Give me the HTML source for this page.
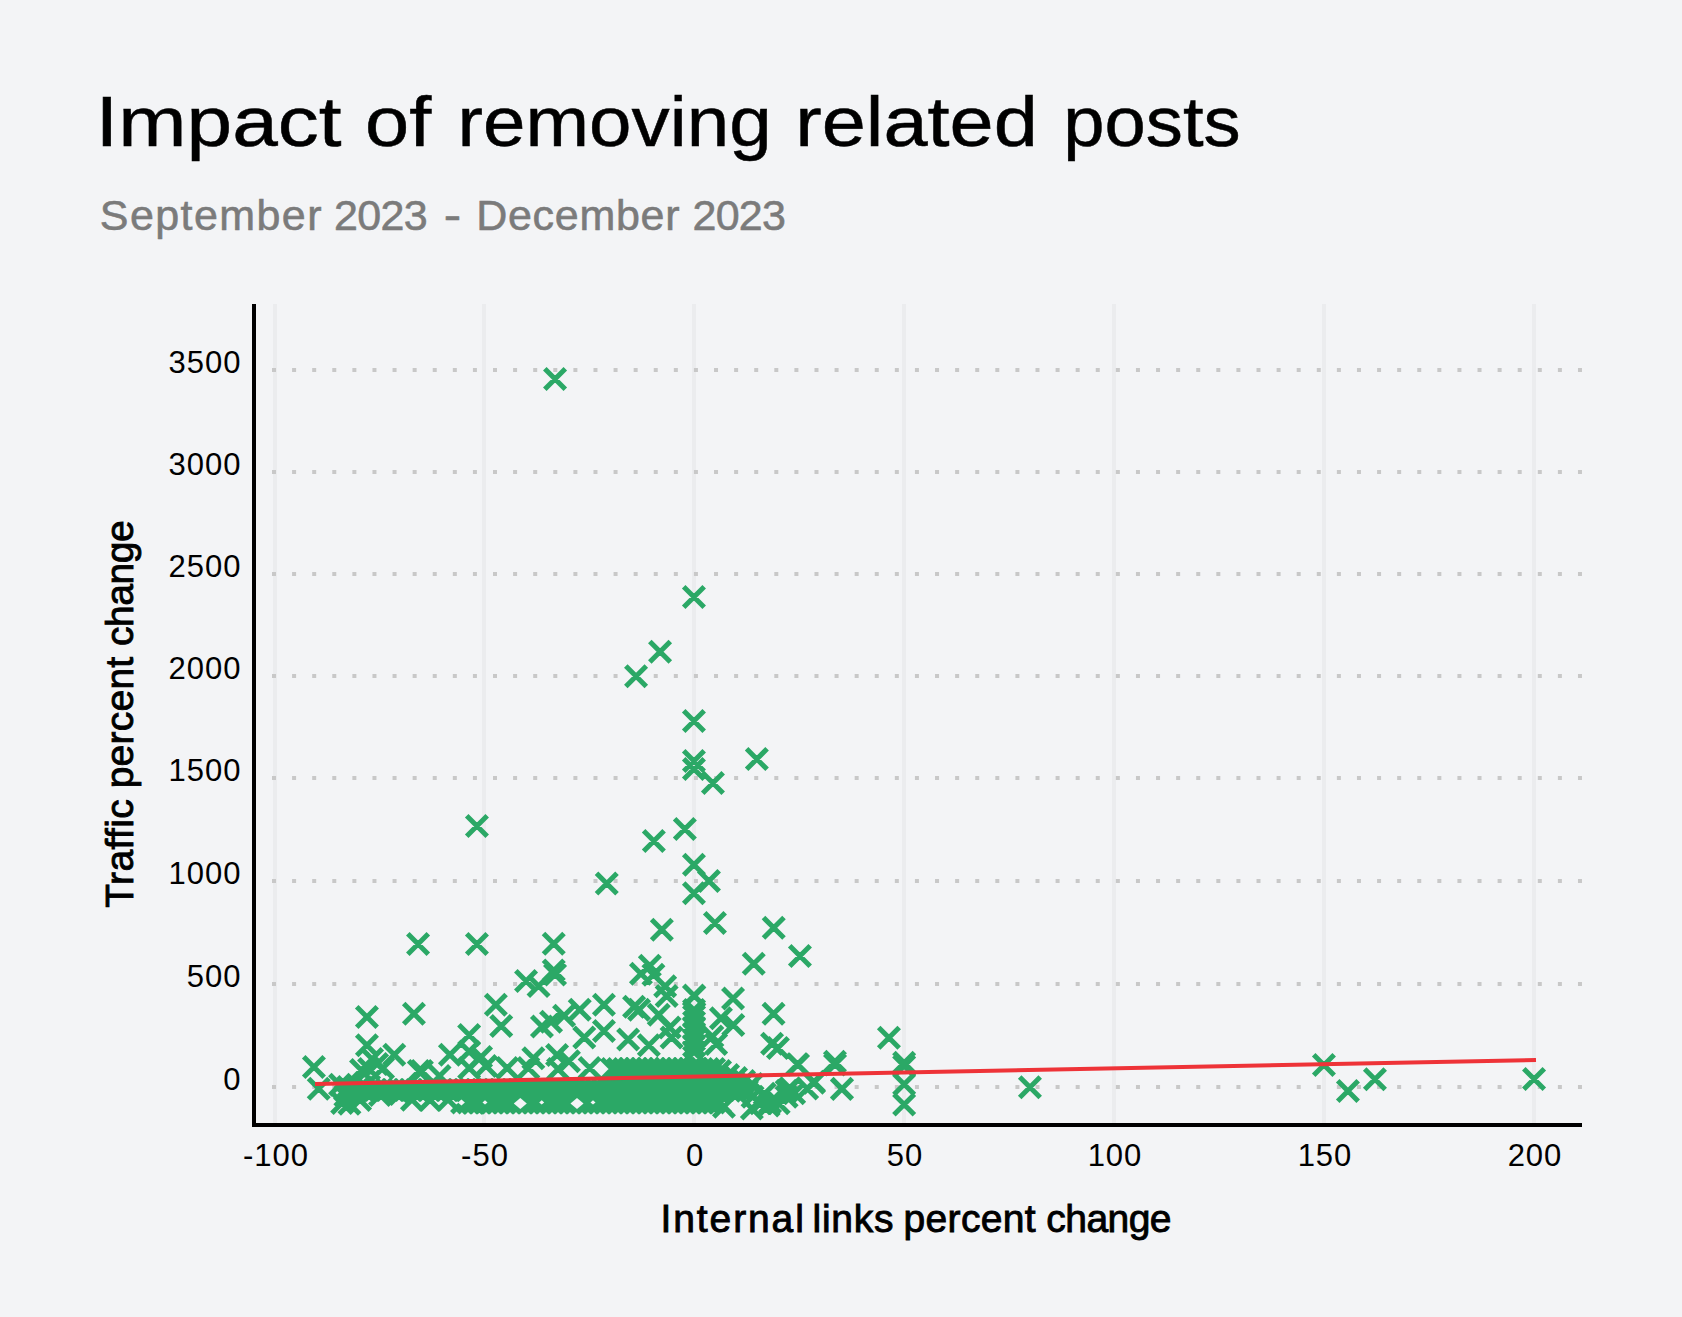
<!DOCTYPE html><html><head><meta charset="utf-8"><style>
html,body{margin:0;padding:0;background:#f3f4f6;}
svg{display:block}
text{font-family:"Liberation Sans",sans-serif}
.tk{font-size:31px;fill:#000;letter-spacing:1px}
.ti{fill:#000;stroke:#000;stroke-width:0.5px}
.st{fill:#7b7b7b;stroke:#7b7b7b;stroke-width:0.6px}
.lb{fill:#000;stroke:#000;stroke-width:0.9px}
</style></head><body>
<svg width="1682" height="1317" viewBox="0 0 1682 1317">
<rect width="1682" height="1317" fill="#f3f4f6"/>
<text x="95.6" y="146.3" font-size="71" textLength="245.9" lengthAdjust="spacingAndGlyphs" class="ti">Impact</text>
<text x="365.1" y="146.3" font-size="71" textLength="66.2" lengthAdjust="spacingAndGlyphs" class="ti">of</text>
<text x="457.6" y="146.3" font-size="71" textLength="314.1" lengthAdjust="spacingAndGlyphs" class="ti">removing</text>
<text x="795.3" y="146.3" font-size="71" textLength="242.5" lengthAdjust="spacingAndGlyphs" class="ti">related</text>
<text x="1063.3" y="146.3" font-size="71" textLength="177.3" lengthAdjust="spacingAndGlyphs" class="ti">posts</text>
<text x="99.8" y="230.3" font-size="43" textLength="221.7" lengthAdjust="spacing" class="st">September</text>
<text x="334.1" y="230.3" font-size="43" textLength="93.6" lengthAdjust="spacing" class="st">2023</text>
<text x="443.7" y="230.3" font-size="43" textLength="17.4" lengthAdjust="spacingAndGlyphs" class="st">-</text>
<text x="476.2" y="230.3" font-size="43" textLength="203.3" lengthAdjust="spacing" class="st">December</text>
<text x="692.5" y="230.3" font-size="43" textLength="93.4" lengthAdjust="spacing" class="st">2023</text>
<rect x="273" y="304" width="4" height="819" fill="#ebecee"/>
<rect x="482" y="304" width="4" height="819" fill="#ebecee"/>
<rect x="692" y="304" width="4" height="819" fill="#ebecee"/>
<rect x="902" y="304" width="4" height="819" fill="#ebecee"/>
<rect x="1112" y="304" width="4" height="819" fill="#ebecee"/>
<rect x="1322" y="304" width="4" height="819" fill="#ebecee"/>
<rect x="1532" y="304" width="4" height="819" fill="#ebecee"/>
<path d="M272 370.0H1582 M272 472.0H1582 M272 574.0H1582 M272 676.0H1582 M272 778.0H1582 M272 881.0H1582 M272 984.0H1582 M272 1087.0H1582" stroke="#c8c8c8" stroke-width="4" stroke-dasharray="4 16.092" fill="none"/>
<rect x="252" y="304" width="4" height="823" fill="#000"/>
<rect x="252" y="1123" width="1330" height="4" fill="#000"/>

<path d="M544.8 368.8l20.5 20.5m0 -20.5l-20.5 20.5M683.7 586.8l20.5 20.5m0 -20.5l-20.5 20.5M649.8 641.6l20.5 20.5m0 -20.5l-20.5 20.5M625.8 665.9l20.5 20.5m0 -20.5l-20.5 20.5M683.7 710.7l20.5 20.5m0 -20.5l-20.5 20.5M683.7 750.8l20.5 20.5m0 -20.5l-20.5 20.5M683.7 758.8l20.5 20.5m0 -20.5l-20.5 20.5M702.7 772.8l20.5 20.5m0 -20.5l-20.5 20.5M746.6 748.8l20.5 20.5m0 -20.5l-20.5 20.5M674.6 818.7l20.5 20.5m0 -20.5l-20.5 20.5M643.6 830.8l20.5 20.5m0 -20.5l-20.5 20.5M683.7 854.5l20.5 20.5m0 -20.5l-20.5 20.5M698.7 870.8l20.5 20.5m0 -20.5l-20.5 20.5M683.7 882.9l20.5 20.5m0 -20.5l-20.5 20.5M596.5 873.3l20.5 20.5m0 -20.5l-20.5 20.5M651.6 919.6l20.5 20.5m0 -20.5l-20.5 20.5M704.7 912.8l20.5 20.5m0 -20.5l-20.5 20.5M763.5 917.6l20.5 20.5m0 -20.5l-20.5 20.5M789.7 945.7l20.5 20.5m0 -20.5l-20.5 20.5M743.5 953.5l20.5 20.5m0 -20.5l-20.5 20.5M639.6 955.5l20.5 20.5m0 -20.5l-20.5 20.5M630.7 963.5l20.5 20.5m0 -20.5l-20.5 20.5M643.2 964.4l20.5 20.5m0 -20.5l-20.5 20.5M654.9 976.1l20.5 20.5m0 -20.5l-20.5 20.5M683.7 985.2l20.5 20.5m0 -20.5l-20.5 20.5M466.7 815.7l20.5 20.5m0 -20.5l-20.5 20.5M407.8 933.8l20.5 20.5m0 -20.5l-20.5 20.5M466.7 933.8l20.5 20.5m0 -20.5l-20.5 20.5M543.5 933.5l20.5 20.5m0 -20.5l-20.5 20.5M543.5 960.3l20.5 20.5m0 -20.5l-20.5 20.5M544.8 964.3l20.5 20.5m0 -20.5l-20.5 20.5M515.8 970.8l20.5 20.5m0 -20.5l-20.5 20.5M528.3 975.8l20.5 20.5m0 -20.5l-20.5 20.5M878.7 1027.6l20.5 20.5m0 -20.5l-20.5 20.5M893.9 1052.4l20.5 20.5m0 -20.5l-20.5 20.5M893.9 1055.8l20.5 20.5m0 -20.5l-20.5 20.5M893.9 1074.1l20.5 20.5m0 -20.5l-20.5 20.5M893.9 1094.3l20.5 20.5m0 -20.5l-20.5 20.5M1019.7 1076.9l20.5 20.5m0 -20.5l-20.5 20.5M1313.7 1054.8l20.5 20.5m0 -20.5l-20.5 20.5M1337.7 1080.8l20.5 20.5m0 -20.5l-20.5 20.5M1364.7 1068.9l20.5 20.5m0 -20.5l-20.5 20.5M1523.8 1068.8l20.5 20.5m0 -20.5l-20.5 20.5M356.7 1006.7l20.5 20.5m0 -20.5l-20.5 20.5M403.7 1003.5l20.5 20.5m0 -20.5l-20.5 20.5M356.7 1034.9l20.5 20.5m0 -20.5l-20.5 20.5M303.7 1056.7l20.5 20.5m0 -20.5l-20.5 20.5M308.5 1078.5l20.5 20.5m0 -20.5l-20.5 20.5M384.0 1044.4l20.5 20.5m0 -20.5l-20.5 20.5M350.8 1059.8l20.5 20.5m0 -20.5l-20.5 20.5M372.8 1057.8l20.5 20.5m0 -20.5l-20.5 20.5M337.7 1076.8l20.5 20.5m0 -20.5l-20.5 20.5M411.6 1060.9l20.5 20.5m0 -20.5l-20.5 20.5M331.9 1092.8l20.5 20.5m0 -20.5l-20.5 20.5M485.6 994.6l20.5 20.5m0 -20.5l-20.5 20.5M491.0 1015.8l20.5 20.5m0 -20.5l-20.5 20.5M458.9 1024.7l20.5 20.5m0 -20.5l-20.5 20.5M439.7 1044.5l20.5 20.5m0 -20.5l-20.5 20.5M470.8 1046.8l20.5 20.5m0 -20.5l-20.5 20.5M531.7 1016.3l20.5 20.5m0 -20.5l-20.5 20.5M540.8 1011.4l20.5 20.5m0 -20.5l-20.5 20.5M523.1 1047.9l20.5 20.5m0 -20.5l-20.5 20.5M496.9 1057.8l20.5 20.5m0 -20.5l-20.5 20.5M518.1 1057.8l20.5 20.5m0 -20.5l-20.5 20.5M458.9 1057.8l20.5 20.5m0 -20.5l-20.5 20.5M475.7 1055.8l20.5 20.5m0 -20.5l-20.5 20.5M408.6 1060.8l20.5 20.5m0 -20.5l-20.5 20.5M429.3 1065.7l20.5 20.5m0 -20.5l-20.5 20.5M546.8 1044.8l20.5 20.5m0 -20.5l-20.5 20.5M547.8 1058.8l20.5 20.5m0 -20.5l-20.5 20.5M569.5 999.5l20.5 20.5m0 -20.5l-20.5 20.5M593.7 994.6l20.5 20.5m0 -20.5l-20.5 20.5M574.0 1027.2l20.5 20.5m0 -20.5l-20.5 20.5M593.7 1020.8l20.5 20.5m0 -20.5l-20.5 20.5M558.7 1050.9l20.5 20.5m0 -20.5l-20.5 20.5M579.4 1057.8l20.5 20.5m0 -20.5l-20.5 20.5M617.9 1029.2l20.5 20.5m0 -20.5l-20.5 20.5M638.6 1035.1l20.5 20.5m0 -20.5l-20.5 20.5M623.8 996.6l20.5 20.5m0 -20.5l-20.5 20.5M628.8 999.5l20.5 20.5m0 -20.5l-20.5 20.5M656.4 985.7l20.5 20.5m0 -20.5l-20.5 20.5M659.4 1017.3l20.5 20.5m0 -20.5l-20.5 20.5M648.5 1004.5l20.5 20.5m0 -20.5l-20.5 20.5M661.3 1027.2l20.5 20.5m0 -20.5l-20.5 20.5M684.1 985.7l20.5 20.5m0 -20.5l-20.5 20.5M702.1 1026.2l20.5 20.5m0 -20.5l-20.5 20.5M553.8 1005.5l20.5 20.5m0 -20.5l-20.5 20.5M722.8 988.2l20.5 20.5m0 -20.5l-20.5 20.5M763.3 1003.5l20.5 20.5m0 -20.5l-20.5 20.5M723.0 1014.8l20.5 20.5m0 -20.5l-20.5 20.5M705.9 1033.8l20.5 20.5m0 -20.5l-20.5 20.5M741.6 1098.3l20.5 20.5m0 -20.5l-20.5 20.5M754.4 1083.5l20.5 20.5m0 -20.5l-20.5 20.5M758.4 1095.3l20.5 20.5m0 -20.5l-20.5 20.5M710.7 1008.1l20.5 20.5m0 -20.5l-20.5 20.5M787.8 1054.3l20.5 20.5m0 -20.5l-20.5 20.5M824.8 1054.3l20.5 20.5m0 -20.5l-20.5 20.5M824.7 1051.4l20.5 20.5m0 -20.5l-20.5 20.5M831.6 1078.8l20.5 20.5m0 -20.5l-20.5 20.5M803.7 1071.4l20.5 20.5m0 -20.5l-20.5 20.5M796.9 1078.3l20.5 20.5m0 -20.5l-20.5 20.5M750.2 1093.1l20.5 20.5m0 -20.5l-20.5 20.5M768.4 1093.1l20.5 20.5m0 -20.5l-20.5 20.5M776.4 1080.5l20.5 20.5m0 -20.5l-20.5 20.5M713.7 1096.5l20.5 20.5m0 -20.5l-20.5 20.5M761.8 1033.5l20.5 20.5m0 -20.5l-20.5 20.5M767.7 1037.7l20.5 20.5m0 -20.5l-20.5 20.5M779.8 1078.1l20.5 20.5m0 -20.5l-20.5 20.5M776.4 1086.4l20.5 20.5m0 -20.5l-20.5 20.5M783.9 1083.1l20.5 20.5m0 -20.5l-20.5 20.5M759.8 1092.2l20.5 20.5m0 -20.5l-20.5 20.5M742.3 1086.4l20.5 20.5m0 -20.5l-20.5 20.5M736.5 1080.6l20.5 20.5m0 -20.5l-20.5 20.5M787.1 1053.9l20.5 20.5m0 -20.5l-20.5 20.5M803.7 1072.6l20.5 20.5m0 -20.5l-20.5 20.5M831.8 1078.4l20.5 20.5m0 -20.5l-20.5 20.5M451.8 1092.3l20.5 20.5m0 -20.5l-20.5 20.5M457.8 1092.3l20.5 20.5m0 -20.5l-20.5 20.5M463.8 1092.3l20.5 20.5m0 -20.5l-20.5 20.5M469.8 1092.3l20.5 20.5m0 -20.5l-20.5 20.5M475.8 1092.3l20.5 20.5m0 -20.5l-20.5 20.5M481.8 1092.3l20.5 20.5m0 -20.5l-20.5 20.5M487.8 1092.3l20.5 20.5m0 -20.5l-20.5 20.5M493.8 1092.3l20.5 20.5m0 -20.5l-20.5 20.5M499.8 1092.3l20.5 20.5m0 -20.5l-20.5 20.5M505.8 1092.3l20.5 20.5m0 -20.5l-20.5 20.5M511.8 1092.3l20.5 20.5m0 -20.5l-20.5 20.5M517.8 1092.3l20.5 20.5m0 -20.5l-20.5 20.5M523.8 1092.3l20.5 20.5m0 -20.5l-20.5 20.5M529.8 1092.3l20.5 20.5m0 -20.5l-20.5 20.5M535.8 1092.3l20.5 20.5m0 -20.5l-20.5 20.5M541.8 1092.3l20.5 20.5m0 -20.5l-20.5 20.5M547.8 1092.3l20.5 20.5m0 -20.5l-20.5 20.5M553.8 1092.3l20.5 20.5m0 -20.5l-20.5 20.5M559.8 1092.3l20.5 20.5m0 -20.5l-20.5 20.5M565.8 1092.3l20.5 20.5m0 -20.5l-20.5 20.5M571.8 1092.3l20.5 20.5m0 -20.5l-20.5 20.5M577.8 1092.3l20.5 20.5m0 -20.5l-20.5 20.5M583.8 1092.3l20.5 20.5m0 -20.5l-20.5 20.5M589.8 1092.3l20.5 20.5m0 -20.5l-20.5 20.5M595.8 1092.3l20.5 20.5m0 -20.5l-20.5 20.5M601.8 1092.3l20.5 20.5m0 -20.5l-20.5 20.5M607.8 1092.3l20.5 20.5m0 -20.5l-20.5 20.5M613.8 1092.3l20.5 20.5m0 -20.5l-20.5 20.5M619.8 1092.3l20.5 20.5m0 -20.5l-20.5 20.5M625.8 1092.3l20.5 20.5m0 -20.5l-20.5 20.5M631.8 1092.3l20.5 20.5m0 -20.5l-20.5 20.5M637.8 1092.3l20.5 20.5m0 -20.5l-20.5 20.5M643.8 1092.3l20.5 20.5m0 -20.5l-20.5 20.5M649.8 1092.3l20.5 20.5m0 -20.5l-20.5 20.5M655.8 1092.3l20.5 20.5m0 -20.5l-20.5 20.5M661.8 1092.3l20.5 20.5m0 -20.5l-20.5 20.5M667.8 1092.3l20.5 20.5m0 -20.5l-20.5 20.5M673.8 1092.3l20.5 20.5m0 -20.5l-20.5 20.5M679.8 1092.3l20.5 20.5m0 -20.5l-20.5 20.5M685.8 1092.3l20.5 20.5m0 -20.5l-20.5 20.5M691.8 1092.3l20.5 20.5m0 -20.5l-20.5 20.5M697.8 1092.3l20.5 20.5m0 -20.5l-20.5 20.5M703.8 1092.3l20.5 20.5m0 -20.5l-20.5 20.5M709.8 1092.3l20.5 20.5m0 -20.5l-20.5 20.5M339.2 1093.6l20.5 20.5m0 -20.5l-20.5 20.5M369.8 1084.8l20.5 20.5m0 -20.5l-20.5 20.5M401.7 1089.5l20.5 20.5m0 -20.5l-20.5 20.5M437.8 1089.5l20.5 20.5m0 -20.5l-20.5 20.5M335.1 1085.5l20.5 20.5m0 -20.5l-20.5 20.5M462.7 1092.5l20.5 20.5m0 -20.5l-20.5 20.5M349.8 1089.8l20.5 20.5m0 -20.5l-20.5 20.5M389.8 1083.8l20.5 20.5m0 -20.5l-20.5 20.5M419.8 1089.8l20.5 20.5m0 -20.5l-20.5 20.5M329.8 1074.6l20.5 20.5m0 -20.5l-20.5 20.5M361.8 1048.8l20.5 20.5m0 -20.5l-20.5 20.5M358.8 1058.8l20.5 20.5m0 -20.5l-20.5 20.5M366.8 1053.8l20.5 20.5m0 -20.5l-20.5 20.5M411.5 1060.8l20.5 20.5m0 -20.5l-20.5 20.5M458.9 1041.3l20.5 20.5m0 -20.5l-20.5 20.5M334.8 1079.8l20.5 20.5m0 -20.5l-20.5 20.5M340.8 1079.8l20.5 20.5m0 -20.5l-20.5 20.5M346.8 1079.8l20.5 20.5m0 -20.5l-20.5 20.5M352.8 1079.8l20.5 20.5m0 -20.5l-20.5 20.5M358.8 1079.8l20.5 20.5m0 -20.5l-20.5 20.5M364.8 1079.8l20.5 20.5m0 -20.5l-20.5 20.5M370.8 1079.8l20.5 20.5m0 -20.5l-20.5 20.5M376.8 1079.8l20.5 20.5m0 -20.5l-20.5 20.5M382.8 1079.8l20.5 20.5m0 -20.5l-20.5 20.5M388.8 1079.8l20.5 20.5m0 -20.5l-20.5 20.5M394.8 1079.8l20.5 20.5m0 -20.5l-20.5 20.5M400.8 1079.8l20.5 20.5m0 -20.5l-20.5 20.5M406.8 1079.8l20.5 20.5m0 -20.5l-20.5 20.5M412.8 1079.8l20.5 20.5m0 -20.5l-20.5 20.5M418.8 1079.8l20.5 20.5m0 -20.5l-20.5 20.5M424.8 1079.8l20.5 20.5m0 -20.5l-20.5 20.5M430.8 1079.8l20.5 20.5m0 -20.5l-20.5 20.5M436.8 1079.8l20.5 20.5m0 -20.5l-20.5 20.5M442.8 1079.8l20.5 20.5m0 -20.5l-20.5 20.5M448.8 1079.8l20.5 20.5m0 -20.5l-20.5 20.5M454.8 1079.8l20.5 20.5m0 -20.5l-20.5 20.5M460.8 1079.8l20.5 20.5m0 -20.5l-20.5 20.5M466.8 1079.8l20.5 20.5m0 -20.5l-20.5 20.5M472.8 1079.8l20.5 20.5m0 -20.5l-20.5 20.5M478.8 1079.8l20.5 20.5m0 -20.5l-20.5 20.5M484.8 1079.8l20.5 20.5m0 -20.5l-20.5 20.5M490.8 1079.8l20.5 20.5m0 -20.5l-20.5 20.5M496.8 1079.8l20.5 20.5m0 -20.5l-20.5 20.5M502.8 1079.8l20.5 20.5m0 -20.5l-20.5 20.5M508.8 1079.8l20.5 20.5m0 -20.5l-20.5 20.5M514.8 1079.8l20.5 20.5m0 -20.5l-20.5 20.5M520.8 1079.8l20.5 20.5m0 -20.5l-20.5 20.5M526.8 1079.8l20.5 20.5m0 -20.5l-20.5 20.5M532.8 1079.8l20.5 20.5m0 -20.5l-20.5 20.5M538.8 1079.8l20.5 20.5m0 -20.5l-20.5 20.5M544.8 1079.8l20.5 20.5m0 -20.5l-20.5 20.5M550.8 1079.8l20.5 20.5m0 -20.5l-20.5 20.5M556.8 1079.8l20.5 20.5m0 -20.5l-20.5 20.5M562.8 1079.8l20.5 20.5m0 -20.5l-20.5 20.5M568.8 1079.8l20.5 20.5m0 -20.5l-20.5 20.5M574.8 1079.8l20.5 20.5m0 -20.5l-20.5 20.5M580.8 1079.8l20.5 20.5m0 -20.5l-20.5 20.5M586.8 1079.8l20.5 20.5m0 -20.5l-20.5 20.5M592.8 1079.8l20.5 20.5m0 -20.5l-20.5 20.5M598.8 1079.8l20.5 20.5m0 -20.5l-20.5 20.5M604.8 1079.8l20.5 20.5m0 -20.5l-20.5 20.5M610.8 1079.8l20.5 20.5m0 -20.5l-20.5 20.5M616.8 1079.8l20.5 20.5m0 -20.5l-20.5 20.5M622.8 1079.8l20.5 20.5m0 -20.5l-20.5 20.5M628.8 1079.8l20.5 20.5m0 -20.5l-20.5 20.5M634.8 1079.8l20.5 20.5m0 -20.5l-20.5 20.5M640.8 1079.8l20.5 20.5m0 -20.5l-20.5 20.5M646.8 1079.8l20.5 20.5m0 -20.5l-20.5 20.5M652.8 1079.8l20.5 20.5m0 -20.5l-20.5 20.5M658.8 1079.8l20.5 20.5m0 -20.5l-20.5 20.5M664.8 1079.8l20.5 20.5m0 -20.5l-20.5 20.5M670.8 1079.8l20.5 20.5m0 -20.5l-20.5 20.5M676.8 1079.8l20.5 20.5m0 -20.5l-20.5 20.5M682.8 1079.8l20.5 20.5m0 -20.5l-20.5 20.5M688.8 1079.8l20.5 20.5m0 -20.5l-20.5 20.5M694.8 1079.8l20.5 20.5m0 -20.5l-20.5 20.5M700.8 1079.8l20.5 20.5m0 -20.5l-20.5 20.5M706.8 1079.8l20.5 20.5m0 -20.5l-20.5 20.5M712.8 1079.8l20.5 20.5m0 -20.5l-20.5 20.5M718.8 1079.8l20.5 20.5m0 -20.5l-20.5 20.5M724.8 1079.8l20.5 20.5m0 -20.5l-20.5 20.5M730.8 1079.8l20.5 20.5m0 -20.5l-20.5 20.5M736.8 1079.8l20.5 20.5m0 -20.5l-20.5 20.5M601.8 1058.8l20.5 20.5m0 -20.5l-20.5 20.5M607.8 1058.8l20.5 20.5m0 -20.5l-20.5 20.5M613.8 1058.8l20.5 20.5m0 -20.5l-20.5 20.5M619.8 1058.8l20.5 20.5m0 -20.5l-20.5 20.5M625.8 1058.8l20.5 20.5m0 -20.5l-20.5 20.5M631.8 1058.8l20.5 20.5m0 -20.5l-20.5 20.5M637.8 1058.8l20.5 20.5m0 -20.5l-20.5 20.5M643.8 1058.8l20.5 20.5m0 -20.5l-20.5 20.5M649.8 1058.8l20.5 20.5m0 -20.5l-20.5 20.5M655.8 1058.8l20.5 20.5m0 -20.5l-20.5 20.5M661.8 1058.8l20.5 20.5m0 -20.5l-20.5 20.5M667.8 1058.8l20.5 20.5m0 -20.5l-20.5 20.5M673.8 1058.8l20.5 20.5m0 -20.5l-20.5 20.5M679.8 1058.8l20.5 20.5m0 -20.5l-20.5 20.5M685.8 1058.8l20.5 20.5m0 -20.5l-20.5 20.5M691.8 1058.8l20.5 20.5m0 -20.5l-20.5 20.5M697.8 1058.8l20.5 20.5m0 -20.5l-20.5 20.5M703.8 1058.8l20.5 20.5m0 -20.5l-20.5 20.5M709.8 1060.8l20.5 20.5m0 -20.5l-20.5 20.5M717.8 1064.8l20.5 20.5m0 -20.5l-20.5 20.5M725.8 1067.8l20.5 20.5m0 -20.5l-20.5 20.5M733.8 1070.8l20.5 20.5m0 -20.5l-20.5 20.5M741.8 1073.8l20.5 20.5m0 -20.5l-20.5 20.5M683.8 999.8l20.5 20.5m0 -20.5l-20.5 20.5M683.8 1005.8l20.5 20.5m0 -20.5l-20.5 20.5M683.8 1011.8l20.5 20.5m0 -20.5l-20.5 20.5M683.8 1017.8l20.5 20.5m0 -20.5l-20.5 20.5M683.8 1023.8l20.5 20.5m0 -20.5l-20.5 20.5M683.8 1029.8l20.5 20.5m0 -20.5l-20.5 20.5M683.8 1035.8l20.5 20.5m0 -20.5l-20.5 20.5M683.8 1041.8l20.5 20.5m0 -20.5l-20.5 20.5" stroke="#2ba866" stroke-width="5" fill="none"/>
<polygon points="513.8,1103.4 520.3,1097.875 526.8,1103.4 520.3,1108.9250000000002" fill="#f3f4f6"/><polygon points="570.5,1103.4 577,1097.875 583.5,1103.4 577,1108.9250000000002" fill="#f3f4f6"/><polygon points="482.5,1102.4 485,1100.275 487.5,1102.4 485,1104.525" fill="#f3f4f6"/><polygon points="539.2,1102.4 541.7,1100.275 544.2,1102.4 541.7,1104.525" fill="#f3f4f6"/><polygon points="590.5,1102.4 593,1100.275 595.5,1102.4 593,1104.525" fill="#f3f4f6"/><polygon points="457.9,1102.4 461.4,1099.4250000000002 464.9,1102.4 461.4,1105.375" fill="#f3f4f6"/>
<line x1="315" y1="1084" x2="1536" y2="1060" stroke="#ee3338" stroke-width="4"/>
<text x="241.5" y="373.0" text-anchor="end" class="tk">3500</text><text x="241.5" y="475.0" text-anchor="end" class="tk">3000</text><text x="241.5" y="577.0" text-anchor="end" class="tk">2500</text><text x="241.5" y="679.0" text-anchor="end" class="tk">2000</text><text x="241.5" y="781.0" text-anchor="end" class="tk">1500</text><text x="241.5" y="884.0" text-anchor="end" class="tk">1000</text><text x="241.5" y="987.0" text-anchor="end" class="tk">500</text><text x="241.5" y="1090.0" text-anchor="end" class="tk">0</text><text x="276.0" y="1165.5" text-anchor="middle" class="tk">-100</text><text x="485.0" y="1165.5" text-anchor="middle" class="tk">-50</text><text x="695.0" y="1165.5" text-anchor="middle" class="tk">0</text><text x="905.0" y="1165.5" text-anchor="middle" class="tk">50</text><text x="1115.0" y="1165.5" text-anchor="middle" class="tk">100</text><text x="1325.0" y="1165.5" text-anchor="middle" class="tk">150</text><text x="1535.0" y="1165.5" text-anchor="middle" class="tk">200</text>
<text x="660.6" y="1232" font-size="39" textLength="143.2" lengthAdjust="spacing" class="lb">Internal</text>
<text x="812.5" y="1232" font-size="39" textLength="80.9" lengthAdjust="spacing" class="lb">links</text>
<text x="903.5" y="1232" font-size="39" textLength="132.1" lengthAdjust="spacing" class="lb">percent</text>
<text x="1046.3" y="1232" font-size="39" textLength="125.2" lengthAdjust="spacing" class="lb">change</text>
<g transform="translate(133.1 907.7) rotate(-90)"><text x="0.0" y="0" font-size="39" textLength="108.4" lengthAdjust="spacing" class="lb">Traffic</text><text x="119.4" y="0" font-size="39" textLength="131.5" lengthAdjust="spacing" class="lb">percent</text><text x="261.7" y="0" font-size="39" textLength="125.8" lengthAdjust="spacing" class="lb">change</text></g>
</svg></body></html>
